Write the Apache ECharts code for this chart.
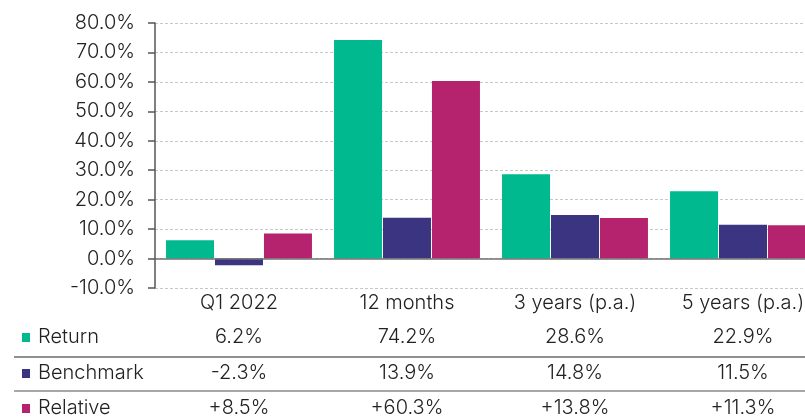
<!DOCTYPE html>
<html>
<head>
<meta charset="utf-8">
<script src="https://cdn.jsdelivr.net/npm/echarts@6/dist/echarts.min.js"></script>
<style>
  html, body { margin: 0; padding: 0; background: #fff; overflow: hidden; }
  #chart { width: 830px; height: 418px; }
</style>
</head>
<body>
<div id="chart"></div>
<script>
// Performance periods and series values (%)
const categories = ['Q1 2022', '12 months', '3 years (p.a.)', '5 years (p.a.)'];
const seriesNames = ['Return', 'Benchmark', 'Relative'];
const seriesColors = ['#00b98e', '#3b3481', '#b5236f'];
const returnValues = [6.2, 74.2, 28.6, 22.9];
const benchmarkValues = [-2.3, 13.9, 14.8, 11.5];
const relativeValues = [8.5, 60.3, 13.8, 11.3];
const yMin = -10, yMax = 80, yStep = 10;

const allValues = [returnValues, benchmarkValues, relativeValues];
const FONT = 'Inter, "Noto Sans", sans-serif';
const TEXT = '#222';
const FS = 20;

const chart = echarts.init(document.getElementById('chart'));

const series = seriesNames.map((name, i) => ({
  name: name,
  type: 'bar',
  data: allValues[i],
  barWidth: 48,
  barGap: '2%',
  itemStyle: { color: seriesColors[i] },
  markLine: i === 0 ? {
    silent: true,
    symbol: 'none',
    label: { show: false },
    lineStyle: { color: '#707070', width: 1.5, type: 'solid' },
    data: [{ yAxis: 0 }]
  } : undefined
}));

chart.setOption({
  animation: false,
  textStyle: { fontFamily: FONT },
  grid: { left: 155, top: 23, right: 3, height: 265, containLabel: false },
  xAxis: {
    type: 'category',
    data: categories,
    axisLine: { show: false, onZero: false },
    axisTick: { show: false },
    axisLabel: { color: TEXT, fontSize: FS, fontWeight: 300, fontFamily: FONT, margin: 5 }
  },
  yAxis: {
    type: 'value',
    min: yMin,
    max: yMax,
    interval: yStep,
    axisLine: { show: true, lineStyle: { color: '#555', width: 1.5 } },
    axisTick: { show: true, inside: false, length: 7, lineStyle: { color: '#555', width: 1.5 } },
    axisLabel: {
      color: TEXT, fontSize: FS, fontWeight: 300, fontFamily: FONT, margin: 20,
      formatter: v => v.toFixed(1) + '%'
    },
    splitLine: { show: true, lineStyle: { color: '#c8c8c8', type: [3, 2], width: 1 } }
  },
  series: series
});

// Data table under the chart, columns aligned with the category axis
const rowY = [337, 373, 408];
const fmt = [
  v => v.toFixed(1) + '%',
  v => v.toFixed(1) + '%',
  v => (v >= 0 ? '+' : '') + v.toFixed(1) + '%'
];
const font = '300 ' + FS + 'px ' + FONT;
const graphics = [];
seriesNames.forEach((name, r) => {
  graphics.push({
    type: 'rect',
    shape: { x: 22, y: rowY[r] - 4, width: 8, height: 9 },
    style: { fill: seriesColors[r] }
  });
  graphics.push({
    type: 'text',
    x: 38, y: rowY[r],
    style: { text: name, fill: TEXT, font: font, textAlign: 'left', textVerticalAlign: 'middle' }
  });
  categories.forEach((c, k) => {
    const px = chart.convertToPixel({ xAxisIndex: 0 }, c);
    graphics.push({
      type: 'text',
      x: px, y: rowY[r],
      style: { text: fmt[r](allValues[r][k]), fill: TEXT, font: font, textAlign: 'center', textVerticalAlign: 'middle' }
    });
  });
});
graphics.push({
  type: 'line',
  shape: { x1: 14, y1: 357, x2: 805, y2: 357 },
  style: { stroke: '#222', lineWidth: 1.2 }
});
graphics.push({
  type: 'line',
  shape: { x1: 14, y1: 391, x2: 805, y2: 391 },
  style: { stroke: '#8a8a8a', lineWidth: 1.5 }
});
chart.setOption({ graphic: graphics });
</script>
</body>
</html>
